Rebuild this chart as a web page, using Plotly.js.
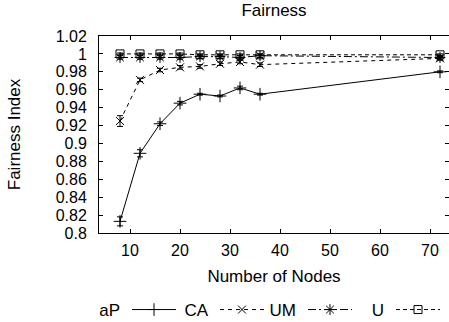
<!DOCTYPE html>
<html>
<head>
<meta charset="utf-8">
<script src="https://cdn.plot.ly/plotly-3.0.1.min.js"></script>
<style>html,body{margin:0;padding:0;background:#fff;}</style>
</head>
<body>
<div id="chart" style="width:449px;height:322px;"></div>
<script>
// Data
const nodes = [8, 12, 16, 20, 24, 28, 32, 36, 72];
const aP   = [0.813, 0.889, 0.922, 0.945, 0.955, 0.953, 0.962, 0.955, 0.980];
const aPErr = [0.005, 0.004, 0.002, 0.002, 0.001, 0.001, 0.002, 0.001, 0.001];
const CA   = [0.925, 0.971, 0.982, 0.985, 0.986, 0.989, 0.991, 0.988, 0.995];
const CAErr = [0.006, 0.002, 0.002, 0.002, 0.002, 0.002, 0.002, 0.002, 0.002];
const UM   = [0.996, 0.996, 0.996, 0.996, 0.997, 0.997, 0.996, 0.998, 0.996];
const UMErr = [0.002, 0.002, 0.002, 0.002, 0.002, 0.002, 0.002, 0.002, 0.002];
const U    = [1.000, 1.000, 1.000, 1.000, 0.999, 0.999, 0.999, 0.999, 0.999];
const UErr = [0.001, 0.001, 0.001, 0.001, 0.001, 0.001, 0.001, 0.001, 0.001];
const yTickVals = [0.8, 0.82, 0.84, 0.86, 0.88, 0.9, 0.92, 0.94, 0.96, 0.98, 1, 1.02];
const yTickText = ['0.8', '0.82', '0.84', '0.86', '0.88', '0.9', '0.92', '0.94', '0.96', '0.98', '1', '1.02'];
const xTickVals = [10, 20, 30, 40, 50, 60, 70];

const FONT = 'Liberation Sans, Arial, sans-serif';
function tr(name, y, err, dash, symbol, msize) {
  return {
    x: nodes, y: y, name: name, type: 'scatter', mode: 'lines+markers',
    line: {color: '#000', width: 1, dash: dash},
    marker: {symbol: symbol, size: msize, color: '#000', line: {color: '#000', width: 1}},
    error_y: {type: 'data', array: err, visible: true, color: '#000', thickness: 1, width: 3}
  };
}
const data = [
  tr('aP', aP, aPErr, 'solid', 'cross-thin-open', 9),
  tr('CA', CA, CAErr, '4px,4px', 'x-thin-open', 8),
  tr('UM', UM, UMErr, '8px,3px,2px,3px', 'asterisk-open', 9),
  tr('U', U, UErr, '4px,3px', 'square-open', 8)
];
const axisCommon = {
  showgrid: false, zeroline: false, showline: true, linecolor: '#000', linewidth: 1,
  mirror: 'ticks', ticks: 'inside', ticklen: 4, tickcolor: '#000',
  tickfont: {family: FONT, size: 16, color: '#000'}
};
const layout = {
  width: 449, height: 322,
  margin: {l: 99, r: 0, t: 36, b: 89, pad: 0},
  paper_bgcolor: '#fff', plot_bgcolor: '#fff',
  font: {family: FONT, size: 16, color: '#000'},
  title: {text: 'Fairness', font: {family: FONT, size: 17, color: '#000'},
          x: 0.5, xref: 'paper', xanchor: 'center', y: 1 - 10/322, yref: 'container', yanchor: 'middle'},
  xaxis: Object.assign({}, axisCommon, {
    range: [3.8, 73.8], tickvals: xTickVals, ticklabelstandoff: 3,
    title: {text: 'Number of Nodes', font: {family: FONT, size: 17, color: '#000'}, standoff: 12}
  }),
  yaxis: Object.assign({}, axisCommon, {
    range: [0.8, 1.02], tickvals: yTickVals, ticktext: yTickText, ticklabelstandoff: 8,
    title: {text: 'Fairness Index', font: {family: FONT, size: 17, color: '#000'}, standoff: 30}
  }),
  showlegend: true,
  legend: {orientation: 'h', x: 0, xref: 'container', xanchor: 'left', y: 1 - 308/322, yref: 'container', yanchor: 'middle',
           font: {family: FONT, size: 17, color: '#000'}, entrywidth: 36, entrywidthmode: 'pixels',
           bgcolor: 'rgba(0,0,0,0)', itemclick: false, itemdoubleclick: false}
};
function parseT(el) {
  const m = /translate\(\s*([-\d.]+)[ ,]+([-\d.]+)\s*\)/.exec(el.getAttribute('transform') || '');
  return m ? [parseFloat(m[1]), parseFloat(m[2])] : [0, 0];
}
Plotly.newPlot('chart', data, layout, {displayModeBar: false, staticPlot: true}).then(function (gd) {
  // gnuplot style legend: label text right-aligned before the symbol, fixed column pitch
  const COL = 88;
  const items = gd.querySelectorAll('.legend .traces');
  items.forEach(function (it, i) {
    const txt = it.querySelector('.legendtext');
    const layers = it.querySelector('.layers');
    if (!txt || !layers) return;
    txt.setAttribute('text-anchor', 'end');
    txt.setAttribute('x', 21);
    layers.setAttribute('transform', 'translate(35,0)');
    layers.querySelectorAll('.legendlines path').forEach(function (p) { p.setAttribute('d', 'M-2,0h44'); });
    const t = parseT(it);
    it.setAttribute('transform', 'translate(' + (i * COL) + ',' + t[1] + ')');
  });
  gd.querySelectorAll('.legend [clip-path]').forEach(function (el) { el.removeAttribute('clip-path'); });
  // shift the legend box so its first column starts under the plot area
  const lg = gd.querySelector('g.legend');
  if (lg) {
    const t = parseT(lg);
    lg.setAttribute('transform', 'translate(' + (t[0] + 99) + ',' + (t[1] + 2) + ')');
  }
  // x-axis title centred at the reference height
  const xt = gd.querySelector('.g-xtitle');
  const xtt = xt && xt.querySelector('text');
  if (xtt) {
    const r = xtt.getBoundingClientRect();
    const cy = r.top + r.height / 2;
    xt.setAttribute('transform', 'translate(0,' + (277 - cy) + ')');
  }
});
</script>
</body>
</html>
